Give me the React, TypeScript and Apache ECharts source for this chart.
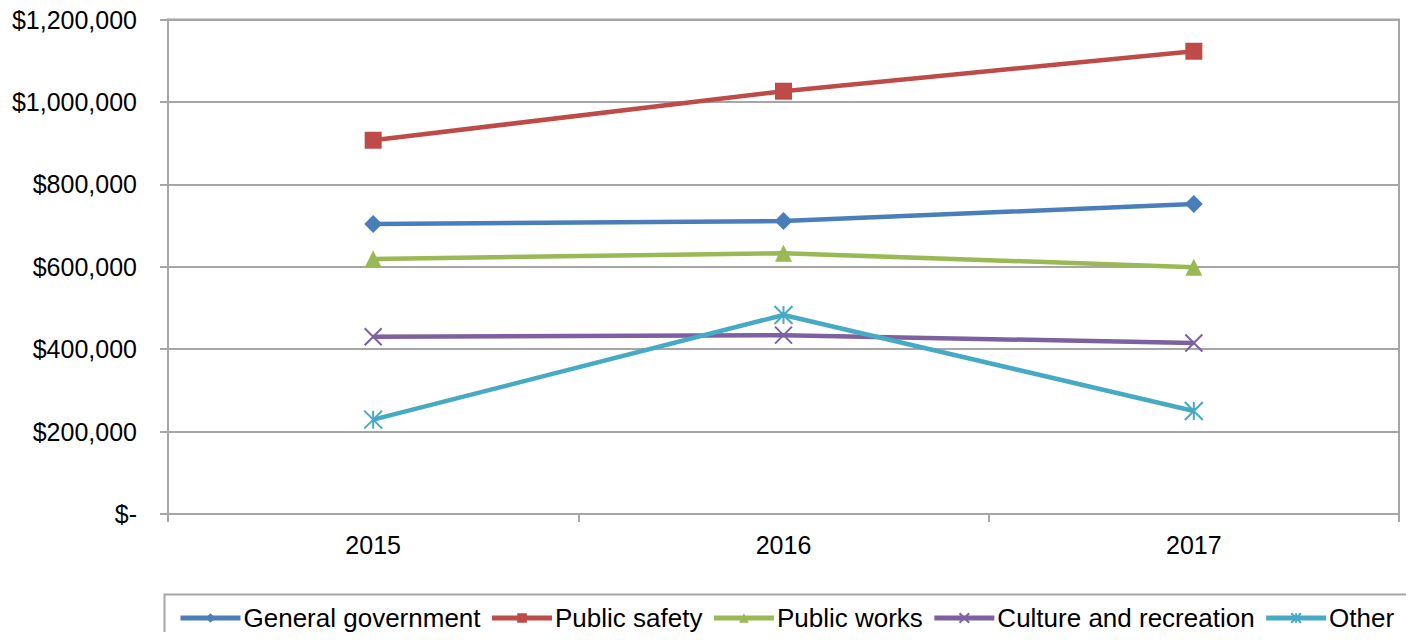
import React, { useEffect, useRef } from "react";
import * as echarts from "echarts";

const years = ["2015", "2016", "2017"];
const generalGovernment = [704000, 711000, 752000];
const publicSafety = [907000, 1026000, 1123000];
const publicWorks = [619000, 633000, 599000];
const cultureRecreation = [430000, 434000, 415000];
const other = [229000, 483000, 250000];

const FONT = "'Liberation Sans', Arial, sans-serif";
const X_PATH = "path://M0,0 L10,10 M10,0 L0,10";
const STAR_PATH = "path://M0,0 L10,10 M10,0 L0,10 M5,0 L5,10";

function mkSeries(name: string, data: number[], color: string, symbol: string, size: number, stroke: boolean) {
  return {
    name,
    type: "line",
    data,
    symbol,
    symbolSize: size,
    showSymbol: true,
    lineStyle: { color, width: 4.5 },
    itemStyle: stroke
      ? { color: "rgba(0,0,0,0)", borderColor: color, borderWidth: 2 }
      : { color, borderColor: color, borderWidth: 0 },
    emphasis: { disabled: true },
  };
}

export default function App() {
  const ref = useRef<HTMLDivElement>(null);
  useEffect(() => {
    if (!ref.current) return;
    const chart = echarts.init(ref.current, null, { renderer: "svg" });
    const axisColor = "#A6A6A6";
    chart.setOption({
      animation: false,
      backgroundColor: "#ffffff",
      grid: {
        left: 168,
        right: 15,
        top: 19.5,
        bottom: 126,
        containLabel: false,
        show: true,
        borderColor: axisColor,
        borderWidth: 2,
      },
      xAxis: {
        type: "category",
        data: years,
        boundaryGap: true,
        axisLine: { show: true, lineStyle: { color: axisColor, width: 2 } },
        axisTick: { show: true, interval: 0, length: 8, lineStyle: { color: axisColor, width: 2 } },
        axisLabel: { color: "#000", fontFamily: FONT, fontSize: 25, margin: 18 },
        splitLine: { show: false },
      },
      yAxis: {
        type: "value",
        min: 0,
        max: 1200000,
        interval: 200000,
        axisLine: { show: true, lineStyle: { color: axisColor, width: 2 } },
        axisTick: { show: true, length: 8, lineStyle: { color: axisColor, width: 2 } },
        axisLabel: {
          color: "#000",
          fontFamily: FONT,
          fontSize: 25,
          margin: 31,
          formatter: (v: number) => (v === 0 ? "$-" : "$" + v.toLocaleString("en-US")),
        },
        splitLine: { show: true, lineStyle: { color: axisColor, width: 2 } },
      },
      legend: {
        left: 173,
        top: 600,
        itemWidth: 60,
        itemHeight: 12,
        itemGap: 9,
        lineStyle: { width: 5 },
        textStyle: { color: "#000", fontFamily: FONT, fontSize: 26, padding: [0, 0, 0, -2] },
        data: ["General government", "Public safety", "Public works", "Culture and recreation", "Other"],
      },
      graphic: [
        {
          type: "rect",
          shape: { x: 164.5, y: 594.5, width: 1245, height: 60 },
          style: { fill: "none", stroke: "#A6A6A6", lineWidth: 2 },
          silent: true,
        },
      ],
      series: [
        mkSeries("General government", generalGovernment, "#4A7EBB", "diamond", 18, false),
        mkSeries("Public safety", publicSafety, "#BE4B48", "rect", 17, false),
        mkSeries("Public works", publicWorks, "#98B954", "triangle", 17, false),
        mkSeries("Culture and recreation", cultureRecreation, "#7D60A0", X_PATH, 17, true),
        mkSeries("Other", other, "#46AAC5", STAR_PATH, 18, true),
      ],
    });
    return () => chart.dispose();
  }, []);
  return <div ref={ref} style={{ width: 1414, height: 640, margin: -8 }} />;
}
